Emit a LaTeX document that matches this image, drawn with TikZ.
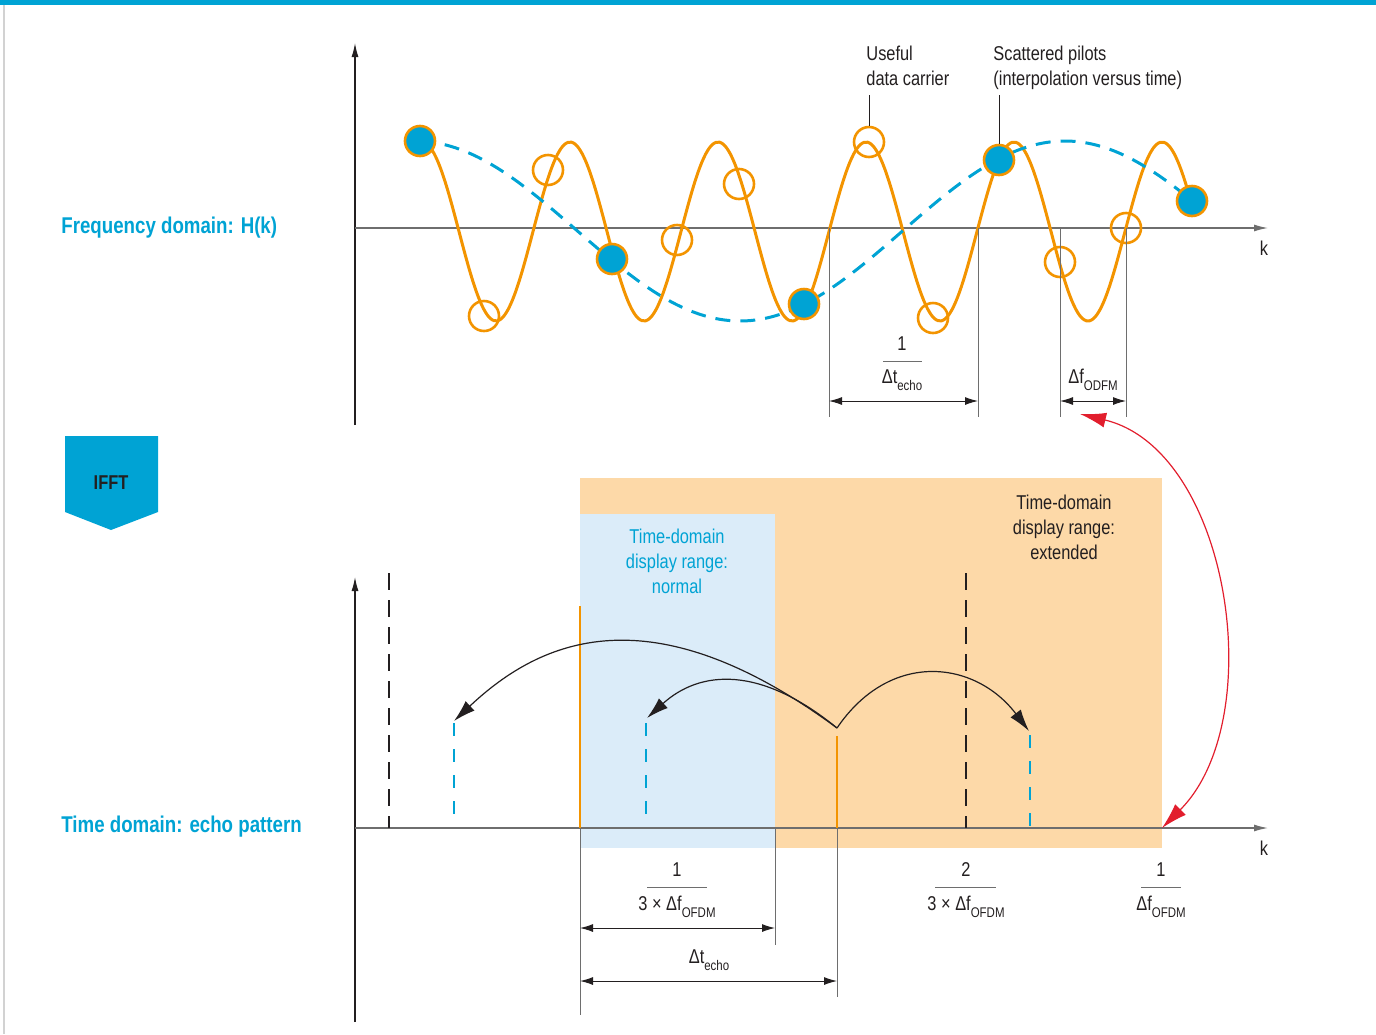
\documentclass[tikz,border=0pt]{standalone}
\usepackage{fontspec}
\setmainfont{Liberation Sans}[FakeStretch=0.82]
\usetikzlibrary{arrows.meta}
\definecolor{rsblue}{RGB}{0,163,212}
\definecolor{rsorange}{RGB}{243,148,0}
\definecolor{peach}{RGB}{253,217,168}
\definecolor{paleblue}{RGB}{219,236,249}
\definecolor{rsred}{RGB}{226,30,45}
\definecolor{ink}{RGB}{35,31,32}
\definecolor{axisgray}{RGB}{110,110,110}
\newcommand\lowidx[1]{\raisebox{-3.5pt}{\fontsize{7}{8}\selectfont #1}}
\newcommand\dfofdm{Δf\lowidx{OFDM}}
\begin{document}
\begin{tikzpicture}[x=0.5pt,y=-0.5pt,
    font=\fontsize{10}{12.5}\selectfont, text=ink,
    axis/.style={line width=0.65pt,-{Latex[length=7pt,width=3.5pt]}},
    carrier/.style={circle,draw=rsorange,line width=1.3pt,minimum size=15pt,inner sep=0pt},
    pilot/.style={carrier,fill=rsblue},
    dimline/.style={axisgray,line width=0.5pt},
    dimarrow/.style={ink,line width=0.5pt,{Latex[length=6.5pt,width=4pt]}-{Latex[length=6.5pt,width=4pt]}},
    jump/.style={ink,line width=0.6pt,-{Latex[length=11pt,width=6.5pt]}},
    echo/.style={rsblue,line width=1.1pt,dash pattern=on 6.5pt off 6.5pt},
    ghost/.style={ink,line width=1.4pt,dash pattern=on 8.5pt off 5pt},
    peak/.style={rsorange,line width=1pt},
    domain label/.style={anchor=base west,inner sep=0pt,text=rsblue,font=\fontsize{11.4}{14}\selectfont\bfseries}]
    \useasboundingbox (0,0) rectangle (1376,1034);
    \fill[rsblue] (0,0) rectangle (1376,5);
    \draw[gray!35,line width=0.8pt] (4,5) -- (4,1034);

    % frequency domain
    \draw[axis,ink] (355,425) -- (355,43);
    \draw[axis,axisgray] (355,228) -- (1268,228);
    \node (kf) at (1264,248) {k};
    \draw[rsorange,line width=1.5pt] plot[domain=420:1192,samples=220,smooth] (\x,{231.5-89.5*cos(2.4324*(\x-570))});
    \draw[rsblue,line width=1.5pt,dash pattern=on 7.5pt off 5pt] plot[domain=420:1192,samples=120,smooth] (\x,{231+90*cos(0.553846*(\x-740))});

    \node[carrier] (c1) at (548,170) {};
    \node[carrier] (c2) at (484,316) {};
    \node[carrier] (c3) at (677,240) {};
    \node[carrier] (c4) at (739,184) {};
    \node[carrier] (c5) at (869,142) {};
    \node[carrier] (c6) at (933,318) {};
    \node[carrier] (c7) at (1060,262) {};
    \node[carrier] (c8) at (1126,228) {};
    \node[pilot] (p1) at (420,141) {};
    \node[pilot] (p2) at (612,259) {};
    \node[pilot] (p3) at (804,304) {};
    \node[pilot] (p4) at (999,160) {};
    \node[pilot] (p5) at (1192,201) {};

    \node[anchor=north west,align=left,inner sep=0pt] (useful) at (866,46) {Useful\\data carrier};
    \node[anchor=north west,align=left,inner sep=0pt] (pilots) at (993,46) {Scattered pilots\\(interpolation versus time)};
    \draw[ink,line width=0.5pt] (c5.north) -- ++(0,-31);
    \draw[ink,line width=0.5pt] (p4.north) -- ++(0,-49);

    \draw[dimline] (829,228) -- (829,417);
    \draw[dimline] (978,228) -- (978,417);
    \draw[dimline] (1060,228) -- (1060,417);
    \draw[dimline] (1126,228) -- (1126,417);
    \draw[dimarrow] (829,401) -- (978,401);
    \draw[dimarrow] (1060,401) -- (1126,401);
    \node (num1) at (902,344) {1};
    \draw[dimline] (883,361) -- (922,361);
    \node[anchor=base] (den1) at (902,383) {Δt\lowidx{echo}};
    \node[anchor=base] (dfo) at (1093,383) {Δf\lowidx{ODFM}};

    \node[domain label] (freq) at (61,233) {Frequency domain: H(k)};

    % IFFT step
    \fill[rsblue] (65,436) -- (158,436) -- (158,512) -- (111,530) -- (65,512) -- cycle;
    \node[font=\fontsize{10}{12}\selectfont\bfseries] (ifft) at (111,483) {IFFT};

    % time domain
    \fill[peach] (580,478) rectangle (1162,848);
    \fill[paleblue] (580,514) rectangle (775,848);
    \node[anchor=north,align=center,inner sep=0pt,text=rsblue] (normal) at (677,529) {Time-domain\\display range:\\normal};
    \node[anchor=north,align=center,inner sep=0pt] (extended) at (1064,495) {Time-domain\\display range:\\extended};

    \draw[axis,ink] (355,1022) -- (355,577);
    \draw[axis,axisgray] (355,828) -- (1268,828);
    \node (kt) at (1264,848) {k};

    \draw[ghost] (389,573) -- (389,828);
    \draw[ghost] (966,573) -- (966,828);
    \draw[echo] (454,723) -- (454,820);
    \draw[echo] (646,723) -- (646,820);
    \draw[echo] (1030,735) -- (1030,828);
    \draw[peak] (580,606) -- (580,828);
    \draw[peak] (837,736) -- (837,828);

    \coordinate (hub) at (837,728);
    \coordinate (e1) at (454,721);
    \coordinate (e2) at (647,718);
    \coordinate (e3) at (1029,731);
    \draw[jump] (hub) .. controls (650,590) and (540,640) .. (e1);
    \draw[jump] (hub) .. controls (760,665) and (700,670) .. (e2);
    \draw[jump] (hub) .. controls (890,650) and (975,660) .. (e3);

    \coordinate (rtop) at (1080,414);
    \coordinate (rbot) at (1162,828);
    \draw[rsred,line width=0.6pt,{Latex[length=13pt,width=7.5pt]}-{Latex[length=13pt,width=7.5pt]}] (rtop) .. controls (1230,450) and (1270,720) .. (rbot);

    \draw[dimline] (580,828) -- (580,1015);
    \draw[dimline] (775,828) -- (775,945);
    \draw[dimline] (837,828) -- (837,997);
    \draw[dimarrow] (580,928) -- (775,928);
    \draw[dimarrow] (580,981) -- (837,981);

    \node (num2) at (677,870) {1};
    \draw[dimline] (647,887) -- (707,887);
    \node[anchor=base] (den2) at (677,910) {3 × \dfofdm};
    \node[anchor=base] (techo) at (709,963) {Δt\lowidx{echo}};
    \node (num3) at (966,870) {2};
    \draw[dimline] (935,887) -- (996,887);
    \node[anchor=base] (den3) at (966,910) {3 × \dfofdm};
    \node (num4) at (1161,870) {1};
    \draw[dimline] (1141,887) -- (1181,887);
    \node[anchor=base] (den4) at (1161,910) {\dfofdm};

    \node[domain label] (timedom) at (61,832) {Time domain: echo pattern};
\end{tikzpicture}
\end{document}
